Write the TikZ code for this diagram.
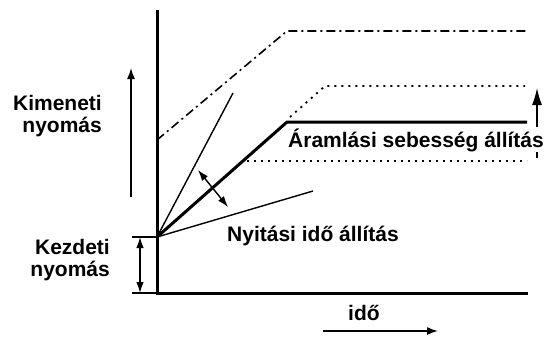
\documentclass[tikz,border=0pt]{standalone}
\usepackage{fontspec}
\setmainfont{Liberation Sans}
\usetikzlibrary{arrows.meta}
\begin{document}
\begin{tikzpicture}[x=1pt,y=-1pt,
  lbl/.style={font=\fontsize{21}{22}\selectfont\bfseries, inner sep=0pt},
  axisline/.style={line width=3pt},
  mainline/.style={line width=3pt},
  thinline/.style={line width=1.4pt},
  dashdotline/.style={line width=1.6pt, dash pattern=on 9pt off 4pt on 2pt off 4pt},
  dotline/.style={line width=1.8pt, dash pattern=on 2pt off 5pt},
  tip/.style={-{Latex[length=11pt,width=8pt]}},
  bigtip/.style={-{Latex[length=17pt,width=10pt]}},
  dtip/.style={{Latex[length=11pt,width=7.5pt]}-{Latex[length=11pt,width=7.5pt]}}
]
\useasboundingbox (0,0) rectangle (556,338);
% coordinates
\coordinate (O) at (157,237);
\coordinate (ytop) at (157,10);
\coordinate (xo) at (157,293);
\coordinate (xend) at (528,293);
\coordinate (k1) at (132,237);
\coordinate (k2) at (132,293);
\coordinate (ka) at (140,237);
\coordinate (kb) at (140,293);
\coordinate (ua) at (131,197);
\coordinate (ub) at (131,68);
\coordinate (dd1) at (157,140);
\coordinate (dd2) at (287,31);
\coordinate (dd3) at (528,31);
\coordinate (ud1) at (290,117);
\coordinate (ud2) at (325,86);
\coordinate (ud3) at (525,86);
\coordinate (m2) at (287,122);
\coordinate (m3) at (527,122);
\coordinate (ld1) at (247,161);
\coordinate (ld2) at (527,161);
\coordinate (t1) at (233,93);
\coordinate (t2) at (313,191);
\coordinate (da) at (198,170);
\coordinate (db) at (228,207);
\coordinate (ra) at (537,158);
\coordinate (rb) at (537,88);
\coordinate (ia) at (323,331);
\coordinate (ib) at (438,331);
% axes
\draw[axisline] (ytop) -- (xo) -- (xend);
\draw[thinline] (k1) -- (O);
\draw[thinline] (k2) -- (xo);
\draw[thinline,dtip] (ka) -- (kb);
\draw[thinline,tip] (ua) -- (ub);
% curves
\draw[dashdotline] (dd1) -- (dd2) -- (dd3);
\draw[dotline] (ud1) -- (ud2) -- (ud3);
\draw[mainline] (O) -- (m2) -- (m3);
\draw[dotline] (ld1) -- (ld2);
\draw[thinline] (O) -- (t1);
\draw[thinline] (O) -- (t2);
\draw[thinline,dtip] (da) -- (db);
\draw[thinline,bigtip] (ra) -- (rb);
\draw[thinline,tip] (ia) -- (ib);
% labels
\node[lbl, align=right, anchor=east] (kim) at (102,116.5) {Kimeneti\\nyomás};
\node[lbl, align=right, anchor=east] (kez) at (110,260.5) {Kezdeti\\nyomás};
\node[lbl, anchor=base west, fill=white, inner sep=1pt] (aram) at (287,147) {Áramlási sebesség állítás};
\node[lbl, anchor=base west] (nyit) at (227,241) {Nyitási idő állítás};
\node[lbl, anchor=base west] (ido) at (348,320) {idő};
\end{tikzpicture}
\end{document}
